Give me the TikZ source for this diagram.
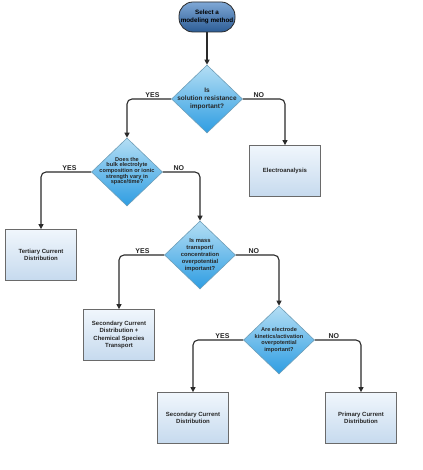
\documentclass[tikz,border=0pt]{standalone}
\usepackage{fontspec}
\setmainfont{Liberation Sans}
\usetikzlibrary{shapes.geometric,arrows.meta}
\definecolor{diatop}{HTML}{B4DEF4}
\definecolor{diabot}{HTML}{2E9DE2}
\definecolor{diaborder}{HTML}{6E9EB8}
\definecolor{boxtop}{HTML}{F0F6FC}
\definecolor{boxbot}{HTML}{C6DAEE}
\definecolor{boxborder}{HTML}{6A6A6A}
\definecolor{starttop}{HTML}{7FA8D6}
\definecolor{startbot}{HTML}{2C5C95}
\definecolor{linecol}{HTML}{2A2A2A}
\begin{document}
\begin{tikzpicture}[x=1pt,y=-1pt,
  txt/.style={font=\bfseries\fontsize{6}{7.3}\selectfont, align=center, text=black!85},
  dia/.style={diamond, draw=diaborder, line width=0.6pt, top color=diatop, bottom color=diabot, minimum width=71pt, minimum height=68pt, inner sep=0pt},
  dtxt/.style={align=center, text=black!85, inner sep=0pt},
  box/.style={rectangle, draw=boxborder, line width=0.8pt, top color=boxtop, bottom color=boxbot, minimum width=71pt, minimum height=51pt, inner sep=1pt, txt},
  arr/.style={draw=linecol, line width=1.1pt, rounded corners=5pt, -{Triangle[length=5pt,width=5pt]}},
  lbl/.style={font=\bfseries\fontsize{7}{8}\selectfont, inner sep=0.5pt, text=black!85}]
\useasboundingbox[fill=white] (0,0) rectangle (422,470);

% start
\node[rectangle, rounded corners=14pt, draw=linecol, line width=0.8pt, top color=starttop, bottom color=startbot,
      minimum width=56pt, minimum height=30pt, inner sep=0pt, align=center,
      font=\bfseries\fontsize{6.3}{8}\selectfont, text=black] (s) at (207,17) {Select a\\modeling method};

% decisions
\node[dia] (d1) at (207,99) {};
\node[dtxt, font=\bfseries\fontsize{6.5}{8}\selectfont] (d1t) at (d1.center) {Is\\solution resistance\\important?};
\node[dia] (d2) at (127,172) {};
\node[dtxt, font=\bfseries\fontsize{5.6}{5.6}\selectfont] (d2t) at ([yshift=1pt]d2.center) {Does the\\bulk electrolyte\\composition or ionic\\strength vary in\\space/time?};
\node[dia] (d3) at (200,255) {};
\node[dtxt, font=\bfseries\fontsize{5.8}{6.9}\selectfont] (d3t) at (d3.center) {Is mass\\transport/\\concentration\\overpotential\\important?};
\node[dia] (d4) at (279,340) {};
\node[dtxt, font=\bfseries\fontsize{5.6}{6.7}\selectfont] (d4t) at (d4.center) {Are electrode\\kinetics/activation\\overpotential\\important?};

% outcomes
\node[box] (e) at (285,171) {Electroanalysis};
\node[box] (t) at (41,255) {Tertiary Current\\Distribution};
\node[box] (c) at (119,335) {Secondary Current\\Distribution +\\Chemical Species\\Transport};
\node[box] (sc) at (193,418) {Secondary Current\\Distribution};
\node[box] (p) at (361,418) {Primary Current\\Distribution};

% connectors
\draw[arr] (s.south) -- (d1.north);
\draw[arr] (d1.west) -| (d2.north);
\draw[arr] (d1.east) -| (e.north);
\draw[arr] (d2.west) -| (t.north);
\draw[arr] (d2.east) -| (d3.north);
\draw[arr] (d3.west) -| (c.north);
\draw[arr] (d3.east) -| (d4.north);
\draw[arr] (d4.west) -| (sc.north);
\draw[arr] (d4.east) -| (p.north);

% labels
\node[lbl, anchor=south east] (y1) at ([xshift=-11pt,yshift=0.6pt]d1.west) {YES};
\node[lbl, anchor=south west] (n1) at ([xshift=10pt,yshift=0.6pt]d1.east) {NO};
\node[lbl, anchor=south east] (y2) at ([xshift=-14pt,yshift=0.6pt]d2.west) {YES};
\node[lbl, anchor=south west] (n2) at ([xshift=10pt,yshift=0.6pt]d2.east) {NO};
\node[lbl, anchor=south east] (y3) at ([xshift=-14pt,yshift=0.6pt]d3.west) {YES};
\node[lbl, anchor=south west] (n3) at ([xshift=12pt,yshift=0.6pt]d3.east) {NO};
\node[lbl, anchor=south east] (y4) at ([xshift=-13pt,yshift=0.6pt]d4.west) {YES};
\node[lbl, anchor=south west] (n4) at ([xshift=13pt,yshift=0.6pt]d4.east) {NO};
\end{tikzpicture}
\end{document}
